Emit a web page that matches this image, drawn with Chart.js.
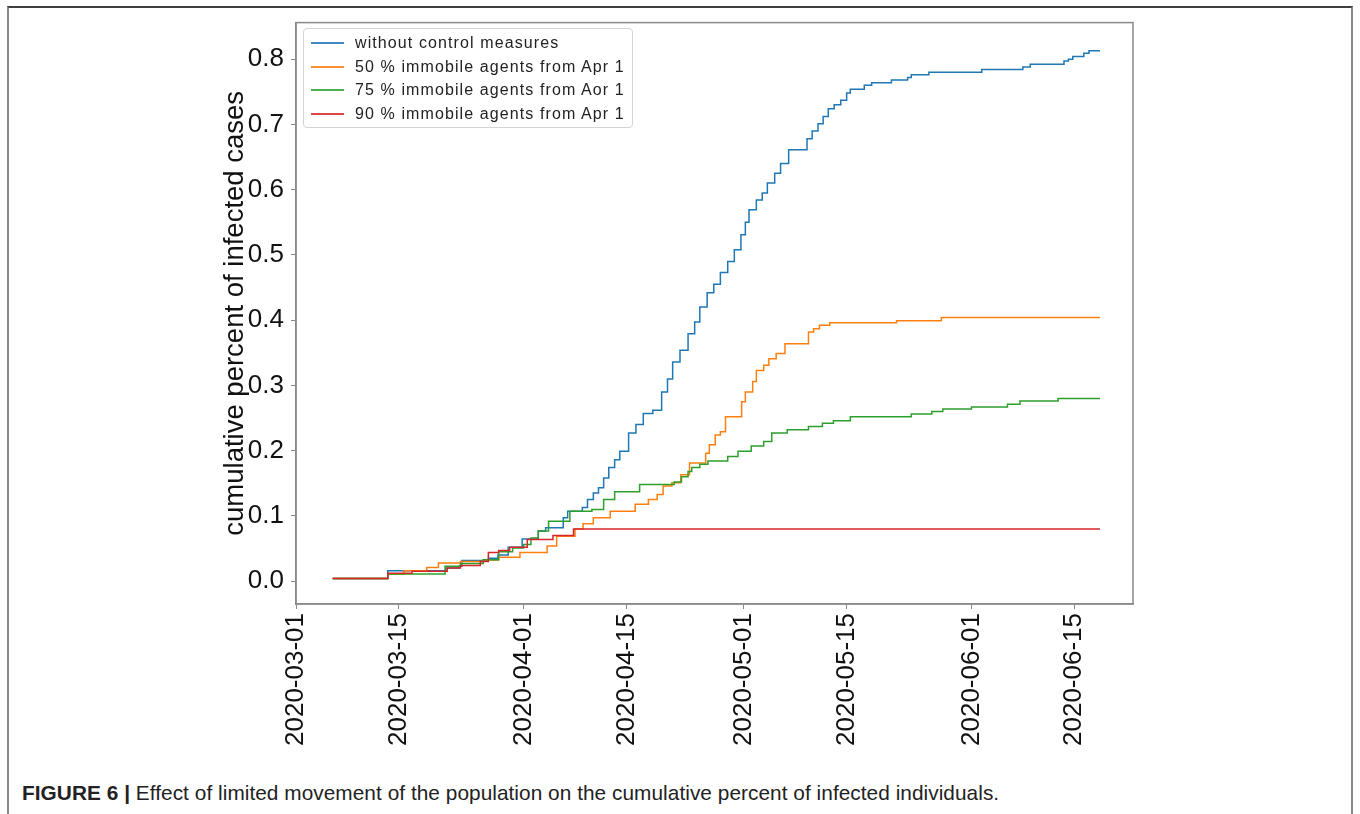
<!DOCTYPE html>
<html>
<head>
<meta charset="utf-8">
<script src="https://cdn.jsdelivr.net/npm/chart.js@4.4.1/dist/chart.umd.min.js"></script>
<style>
    body { margin: 0; background: #fff; width: 1360px; height: 814px; overflow: hidden; position: relative; }
    .frame { position: absolute; left: 7px; top: 6px; width: 1346px; height: 830px; border: 2px solid #8a8a8a; border-top-color: #404040; box-sizing: border-box; }
    #chart { position: absolute; left: 0; top: 0; }
    .legend { position: absolute; left: 303px; top: 28px; width: 330px; height: 100px; border: 1px solid #d4d4d4; border-radius: 4px; background: rgba(255,255,255,0.8); box-sizing: border-box; }
    .legend-item { position: absolute; left: 0; height: 20px; font-family: "Liberation Sans", Arial, sans-serif; font-size: 16px; letter-spacing: 1.1px; color: #222; white-space: nowrap; }
    .legend-item span.swatch { position: absolute; left: 7px; top: 9px; width: 33px; height: 2px; opacity: 0.85; }
    .legend-item span.label { position: absolute; left: 51px; top: 0; line-height: 20px; }
    .caption { position: absolute; left: 22px; top: 781px; font-family: "Liberation Sans", Arial, sans-serif; font-size: 20.8px; color: #222; white-space: nowrap; letter-spacing: 0.05px; }
    .caption b { font-weight: bold; }
</style>
</head>
<body>
<div class="frame"></div>
<canvas id="chart" width="1360" height="770"></canvas>
<div class="legend" id="legend"></div>
<div class="caption"><b>FIGURE 6 |</b> Effect of limited movement of the population on the cumulative percent of infected individuals.</div>

<script>
// ====== DATA (x = days since 2020-03-01) ======
const xTickDays = [0, 14, 31, 45, 61, 75, 92, 106];
const xTickLabels = ['2020-03-01', '2020-03-15', '2020-04-01', '2020-04-15', '2020-05-01', '2020-05-15', '2020-06-01', '2020-06-15'];
const yTickValues = [0, 0.1, 0.2, 0.3, 0.4, 0.5, 0.6, 0.7, 0.8];

const seriesNames = [
    'without control measures',
    '50 % immobile agents from Apr 1',
    '75 % immobile agents from Aor 1',
    '90 % immobile agents from Apr 1'
];
const seriesColors = ['#1f77b4', '#ff7f0e', '#2ca02c', '#d62728'];

const noControlDays = [5, 12.5, 20.4, 22.2, 22.6, 26.2, 27.5, 28.9, 30.8, 33, 34, 36.4, 37, 39, 39.7, 40.5, 41.2, 41.9, 42.6, 43.4, 44.1, 45.3, 46.3, 47.3, 48.6, 49.8, 50.6, 51.3, 52.3, 53.4, 54.3, 55, 56, 56.9, 57.8, 58.8, 59.7, 60.6, 61.2, 61.7, 62.7, 63.5, 64.2, 65.2, 66, 67.1, 69.6, 70.3, 71.1, 71.8, 72.5, 73.3, 74.2, 75, 75.5, 77.4, 78.4, 81.1, 83.3, 83.8, 86.2, 93.4, 99, 100, 104.6, 105.2, 105.8, 107.3, 108, 109.5];
const noControlVals = [0.004, 0.016, 0.020, 0.023, 0.0315, 0.035, 0.040, 0.052, 0.0645, 0.077, 0.082, 0.097, 0.107, 0.113, 0.125, 0.135, 0.143, 0.158, 0.174, 0.186, 0.199, 0.227, 0.240, 0.257, 0.262, 0.290, 0.310, 0.336, 0.354, 0.379, 0.397, 0.420, 0.442, 0.455, 0.473, 0.490, 0.508, 0.531, 0.550, 0.569, 0.584, 0.595, 0.610, 0.625, 0.640, 0.661, 0.678, 0.690, 0.701, 0.712, 0.724, 0.730, 0.737, 0.748, 0.754, 0.760, 0.764, 0.768, 0.772, 0.776, 0.780, 0.784, 0.788, 0.792, 0.797, 0.800, 0.804, 0.809, 0.813, 0.813];

const imm50Days = [5, 12.5, 14.7, 17.8, 19.4, 22.4, 25.5, 27.6, 30.5, 34.2, 35.5, 38, 39.1, 40.5, 42.8, 46.2, 48, 49.2, 50, 51.2, 52.4, 53.6, 55.8, 56.3, 57.1, 57.8, 58.5, 60.7, 61.2, 62.2, 62.7, 63.7, 64.4, 65.4, 66.6, 69.8, 70.5, 71.3, 72.7, 81.8, 87.9, 109.5];
const imm50Vals = [0.004, 0.011, 0.016, 0.021, 0.028, 0.030, 0.0325, 0.0365, 0.044, 0.054, 0.069, 0.080, 0.088, 0.097, 0.107, 0.118, 0.125, 0.133, 0.146, 0.151, 0.163, 0.181, 0.196, 0.209, 0.224, 0.229, 0.252, 0.275, 0.290, 0.306, 0.323, 0.331, 0.341, 0.349, 0.364, 0.382, 0.387, 0.392, 0.396, 0.399, 0.404, 0.404];

const imm75Days = [5, 12.5, 20.3, 22.4, 25.5, 27.6, 29.5, 31, 32, 33, 34.4, 37.3, 40.3, 41.9, 43.4, 46.8, 51.5, 52.5, 53.4, 53.9, 55, 56.1, 58.8, 60.2, 62, 63.7, 64.8, 66.9, 69.8, 71.7, 73.2, 75.5, 83.8, 86.6, 88.1, 92, 96.9, 98.6, 103.8, 109.5];
const imm75Vals = [0.004, 0.011, 0.023, 0.027, 0.033, 0.045, 0.051, 0.056, 0.066, 0.077, 0.092, 0.107, 0.110, 0.125, 0.137, 0.148, 0.152, 0.160, 0.168, 0.174, 0.179, 0.184, 0.191, 0.199, 0.207, 0.214, 0.227, 0.232, 0.237, 0.242, 0.246, 0.252, 0.256, 0.260, 0.264, 0.267, 0.271, 0.276, 0.280, 0.280];

const imm90Days = [5, 12.5, 15.8, 20.6, 22.4, 25.1, 26.2, 27.6, 29.1, 31.5, 35, 37.8, 109.5];
const imm90Vals = [0.004, 0.012, 0.015, 0.020, 0.024, 0.030, 0.044, 0.047, 0.052, 0.064, 0.070, 0.080, 0.080];

// Build points
function toPoints(days, vals) {
    return days.map((d, i) => ({ x: d, y: vals[i] }));
}

const seriesPoints = [
    toPoints(noControlDays, noControlVals),
    toPoints(imm50Days, imm50Vals),
    toPoints(imm75Days, imm75Vals),
    toPoints(imm90Days, imm90Vals)
];

// Plot frame (top/right edges drawn here too)
const frameBox = {
    id: 'frameBox',
    afterDatasetsDraw(chart) {
        const { ctx, chartArea } = chart;
        ctx.save();
        ctx.strokeStyle = '#8a8a8a';
        ctx.lineWidth = 1.5;
        ctx.strokeRect(chartArea.left, chartArea.top, chartArea.right - chartArea.left, chartArea.bottom - chartArea.top);
        ctx.restore();
    }
};

const tickFont = { family: '"Liberation Sans", Arial, sans-serif', size: 26 };

new Chart(document.getElementById('chart').getContext('2d'), {
    type: 'line',
    data: {
        datasets: seriesPoints.map((pts, i) => ({
            label: seriesNames[i],
            data: pts,
            borderColor: seriesColors[i],
            backgroundColor: seriesColors[i],
            borderWidth: 1.5,
            pointRadius: 0,
            fill: false,
            stepped: 'before',
            order: 4 - i
        }))
    },
    options: {
        responsive: false,
        animation: false,
        layout: { padding: { left: 219, top: 20, right: 227, bottom: 0 } },
        plugins: {
            legend: { display: false },
            tooltip: { enabled: false }
        },
        scales: {
            x: {
                type: 'linear',
                min: 0,
                max: 114,
                afterBuildTicks: (scale) => { scale.ticks = xTickDays.map(v => ({ value: v })); },
                afterFit: (scale) => { scale.height = 166; },
                grid: { display: true, drawOnChartArea: false, drawTicks: true, tickLength: 5, color: '#8a8a8a' },
                border: { display: true, color: '#8a8a8a', width: 1.5 },
                ticks: {
                    autoSkip: false,
                    minRotation: 90,
                    maxRotation: 90,
                    padding: 4,
                    color: '#111',
                    font: tickFont,
                    callback: (v) => xTickLabels[xTickDays.indexOf(v)]
                }
            },
            y: {
                min: -0.035,
                max: 0.856,
                afterBuildTicks: (scale) => { scale.ticks = yTickValues.map(v => ({ value: v })); },
                afterFit: (scale) => { scale.width = 77; },
                grid: { display: true, drawOnChartArea: false, drawTicks: true, tickLength: 5, color: '#8a8a8a' },
                border: { display: true, color: '#8a8a8a', width: 1.5 },
                ticks: {
                    padding: 7,
                    color: '#111',
                    font: tickFont,
                    callback: (v) => v.toFixed(1)
                },
                title: {
                    display: true,
                    text: 'cumulative percent of infected cases',
                    color: '#111',
                    font: { family: '"Liberation Sans", Arial, sans-serif', size: 27.5 },
                    padding: { top: 0, bottom: 0 }
                }
            }
        }
    },
    plugins: [frameBox]
});

// HTML legend inside the plot
const legendEl = document.getElementById('legend');
seriesNames.forEach((name, i) => {
    const row = document.createElement('div');
    row.className = 'legend-item';
    row.style.top = (4 + i * 23.6) + 'px';
    row.innerHTML = `<span class="swatch" style="background:${seriesColors[i]}"></span><span class="label">${name}</span>`;
    legendEl.appendChild(row);
});
</script>
</body>
</html>
